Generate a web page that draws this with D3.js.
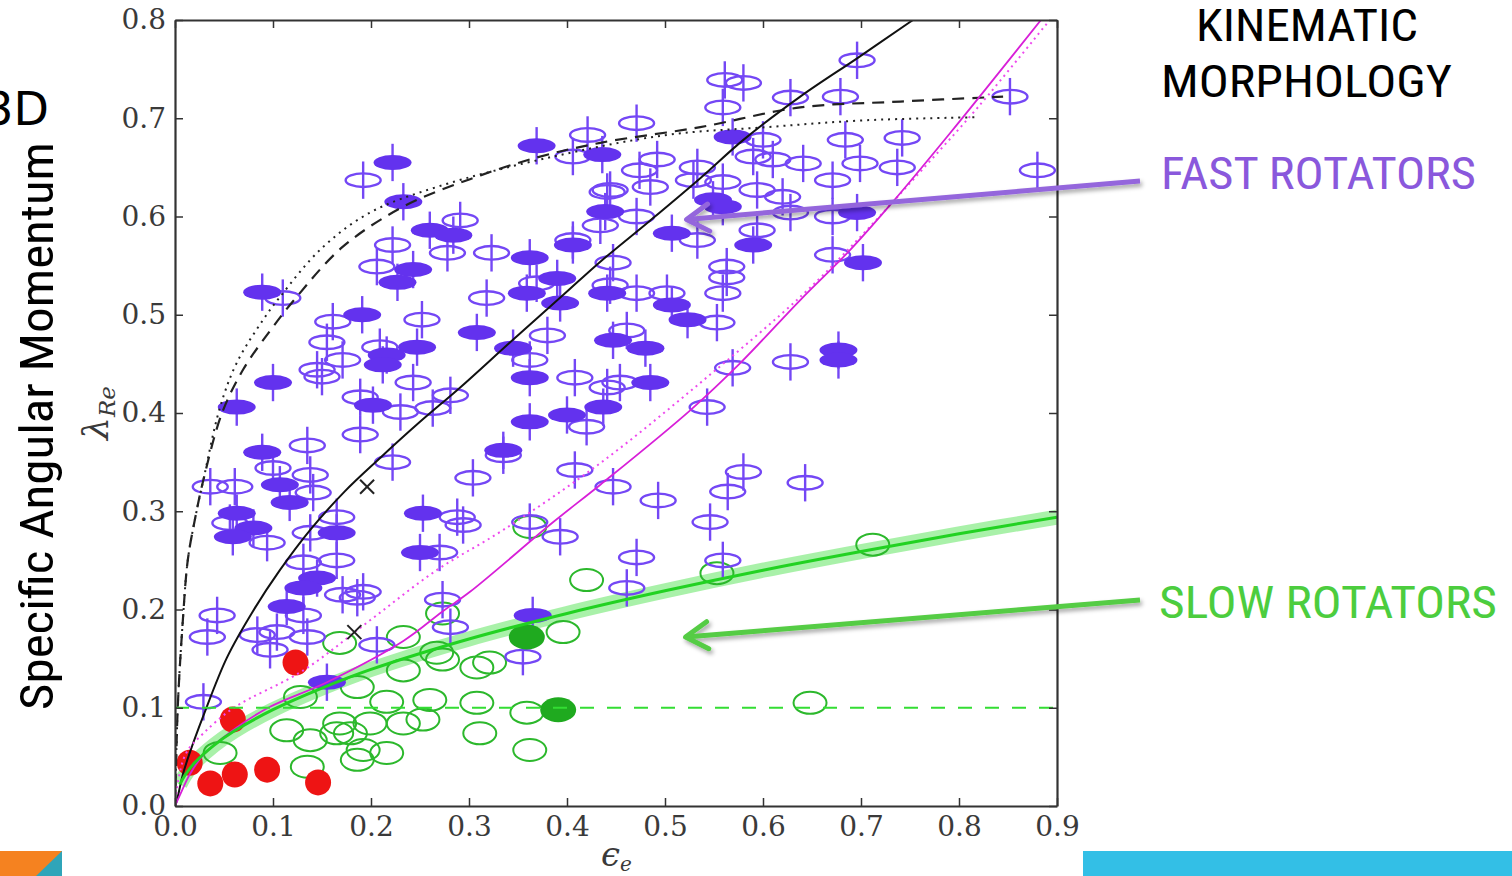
<!DOCTYPE html>
<html>
<head>
<meta charset="utf-8">
<script src="https://cdn.jsdelivr.net/npm/d3@7"></script>
<style>
  html, body { margin: 0; padding: 0; background: #fff; overflow: hidden; }
</style>
</head>
<body>
<svg id="chart" width="1512" height="876"></svg>
<script>
// ---- axis ticks ----
const xTicks = [0.0, 0.1, 0.2, 0.3, 0.4, 0.5, 0.6, 0.7, 0.8, 0.9];
const yTicks = [0.0, 0.1, 0.2, 0.3, 0.4, 0.5, 0.6, 0.7, 0.8];

// ---- galaxies: [ellipticity, lambda_Re] ----
const fastOpen = [
  [0.696,0.759],[0.561,0.739],[0.580,0.736],[0.628,0.721],[0.679,0.722],[0.852,0.722],[0.559,0.711],
  [0.471,0.695],[0.421,0.683],[0.406,0.661],[0.684,0.678],[0.742,0.680],[0.600,0.678],[0.492,0.658],
  [0.474,0.647],[0.533,0.650],[0.590,0.661],[0.610,0.658],[0.641,0.654],[0.699,0.654],[0.737,0.650],
  [0.671,0.637],[0.880,0.647],[0.444,0.627],[0.485,0.630],[0.529,0.637],[0.559,0.635],[0.594,0.627],
  [0.620,0.620],[0.628,0.604],[0.671,0.600],[0.471,0.600],[0.533,0.576],[0.594,0.586],[0.563,0.549],
  [0.563,0.538],[0.671,0.561],[0.447,0.553],[0.502,0.522],[0.559,0.522],[0.192,0.637],[0.441,0.625],
  [0.434,0.591],[0.406,0.576],[0.291,0.596],[0.222,0.571],[0.278,0.563],[0.323,0.563],[0.206,0.549],
  [0.318,0.517],[0.444,0.530],[0.369,0.532],[0.110,0.517],[0.161,0.493],[0.252,0.495],[0.155,0.472],
  [0.209,0.467],[0.171,0.454],[0.145,0.444],[0.150,0.437],[0.362,0.454],[0.380,0.479],[0.408,0.436],
  [0.420,0.386],[0.441,0.426],[0.189,0.416],[0.243,0.431],[0.281,0.418],[0.230,0.401],[0.263,0.405],
  [0.189,0.378],[0.135,0.367],[0.100,0.344],[0.335,0.357],[0.222,0.350],[0.304,0.334],[0.408,0.342],
  [0.138,0.337],[0.036,0.325],[0.061,0.325],[0.141,0.319],[0.056,0.288],[0.165,0.294],[0.288,0.294],
  [0.294,0.286],[0.362,0.289],[0.393,0.274],[0.447,0.325],[0.094,0.268],[0.138,0.278],[0.270,0.258],
  [0.131,0.248],[0.165,0.250],[0.171,0.215],[0.186,0.212],[0.192,0.218],[0.131,0.194],[0.043,0.194],
  [0.033,0.172],[0.084,0.174],[0.104,0.177],[0.135,0.172],[0.097,0.159],[0.206,0.164],[0.273,0.210],
  [0.281,0.182],[0.355,0.152],[0.029,0.106],[0.471,0.522],[0.553,0.492],[0.461,0.484],[0.454,0.431],
  [0.569,0.446],[0.628,0.452],[0.543,0.406],[0.493,0.311],[0.580,0.340],[0.564,0.320],[0.643,0.329],
  [0.546,0.289],[0.471,0.253],[0.461,0.222],[0.559,0.250]
];
const fastFilled = [
  [0.222,0.655],[0.233,0.615],[0.369,0.672],[0.436,0.663],[0.439,0.605],[0.406,0.571],[0.260,0.586],
  [0.284,0.581],[0.243,0.546],[0.227,0.533],[0.362,0.558],[0.390,0.537],[0.359,0.522],[0.089,0.523],
  [0.441,0.522],[0.569,0.681],[0.549,0.617],[0.559,0.610],[0.696,0.604],[0.507,0.583],[0.590,0.571],
  [0.702,0.553],[0.191,0.500],[0.308,0.482],[0.247,0.467],[0.216,0.459],[0.212,0.449],[0.100,0.431],
  [0.345,0.466],[0.362,0.436],[0.393,0.512],[0.437,0.406],[0.400,0.398],[0.362,0.391],[0.063,0.406],
  [0.202,0.408],[0.089,0.360],[0.335,0.362],[0.107,0.327],[0.117,0.309],[0.063,0.298],[0.080,0.283],
  [0.059,0.274],[0.253,0.298],[0.165,0.278],[0.250,0.258],[0.145,0.232],[0.131,0.222],[0.114,0.203],
  [0.365,0.194],[0.155,0.126],[0.507,0.510],[0.523,0.495],[0.447,0.474],[0.480,0.466],[0.485,0.431],
  [0.677,0.464],[0.677,0.454]
];
const slowOpen = [
  [0.362,0.284],[0.420,0.230],[0.273,0.196],[0.396,0.177],[0.168,0.166],[0.233,0.172],[0.128,0.111],
  [0.186,0.121],[0.233,0.138],[0.273,0.149],[0.308,0.141],[0.321,0.146],[0.267,0.156],[0.216,0.106],
  [0.260,0.108],[0.308,0.105],[0.253,0.088],[0.359,0.095],[0.311,0.074],[0.362,0.057],[0.114,0.077],
  [0.138,0.067],[0.165,0.074],[0.168,0.084],[0.179,0.074],[0.192,0.057],[0.199,0.084],[0.135,0.040],
  [0.186,0.047],[0.216,0.054],[0.233,0.084],[0.046,0.054],[0.648,0.105],[0.553,0.237],[0.712,0.266]
];
const slowFilled = [[0.359,0.172],[0.391,0.098]];
const redPoints = [[0.123,0.146],[0.059,0.088],[0.015,0.044],[0.036,0.023],[0.061,0.032],[0.094,0.037],[0.146,0.024]];
const crossPoints = [[0.196,0.325],[0.183,0.177]];

// ---- model curves: [ellipticity, lambda_Re] ----
const blackSolid = [
  [0,0],[0.002,0.006],[0.008,0.032],[0.015,0.054],[0.029,0.092],[0.053,0.151],[0.080,0.199],
  [0.107,0.240],[0.138,0.281],[0.173,0.320],[0.209,0.354],[0.250,0.391],[0.291,0.426],[0.342,0.472],
  [0.396,0.520],[0.434,0.554],[0.485,0.596],[0.536,0.639],[0.580,0.678],[0.638,0.722],[0.696,0.761],
  [0.750,0.798],[0.760,0.805]
];
const blackDotted = [
  [0,0],[0.001,0.04],[0.003,0.105],[0.008,0.189],[0.013,0.25],[0.020,0.29],[0.029,0.332],[0.046,0.406],
  [0.063,0.451],[0.090,0.495],[0.107,0.518],[0.150,0.568],[0.199,0.604],[0.267,0.630],[0.386,0.661],
  [0.502,0.683],[0.604,0.691],[0.706,0.698],[0.818,0.701]
];
const blackDashed = [
  [0,0],[0.001,0.04],[0.003,0.105],[0.008,0.189],[0.013,0.25],[0.020,0.29],[0.029,0.332],[0.048,0.400],
  [0.070,0.445],[0.098,0.485],[0.124,0.518],[0.171,0.569],[0.233,0.610],[0.301,0.638],[0.369,0.660],
  [0.434,0.675],[0.536,0.691],[0.638,0.711],[0.740,0.717],[0.845,0.722]
];
const magentaSolid = [
  [0,0],[0.005,0.011],[0.015,0.032],[0.029,0.052],[0.063,0.080],[0.097,0.101],[0.155,0.126],
  [0.233,0.168],[0.273,0.198],[0.301,0.218],[0.386,0.289],[0.434,0.327],[0.526,0.403],[0.577,0.451],
  [0.638,0.515],[0.689,0.566],[0.730,0.612],[0.791,0.685],[0.886,0.803]
];
const magentaDotted = [
  [0,0],[0.004,0.030],[0.012,0.055],[0.029,0.074],[0.060,0.100],[0.131,0.138],[0.199,0.189],
  [0.267,0.240],[0.335,0.281],[0.434,0.349],[0.540,0.434],[0.640,0.520],[0.700,0.580],[0.760,0.645],
  [0.820,0.712],[0.895,0.803]
];
const greenThreshold = [
  [0.005,0.022],[0.010,0.031],[0.020,0.044],[0.040,0.062],[0.060,0.076],[0.100,0.098],[0.150,0.120],
  [0.200,0.139],[0.300,0.170],[0.400,0.196],[0.500,0.219],[0.600,0.240],[0.700,0.259],[0.800,0.277],
  [0.900,0.294]
];
const slowLimit = 0.1;
const lambdaErr = 0.019;

// ---- scales ----
const svg = d3.select("#chart");
const x = d3.scaleLinear().domain([0, 0.9]).range([175, 1057]);
const y = d3.scaleLinear().domain([0, 0.8]).range([806, 20]);

const defs = svg.append("defs");
defs.append("clipPath").attr("id", "plotClip")
  .append("rect").attr("x", 175).attr("y", 20).attr("width", 882).attr("height", 786);
const shadow = defs.append("filter").attr("id", "shadow")
  .attr("x", "-10%").attr("y", "-50%").attr("width", "120%").attr("height", "200%");
shadow.append("feDropShadow").attr("dx", 2).attr("dy", 3).attr("stdDeviation", 2)
  .attr("flood-color", "#000").attr("flood-opacity", 0.35);

svg.append("rect").attr("width", 1512).attr("height", 876).attr("fill", "#fff");

const plot = svg.append("g").attr("clip-path", "url(#plotClip)");
const line = d3.line().x(d => x(d[0])).y(d => y(d[1])).curve(d3.curveCatmullRom.alpha(0.5));

// threshold band
plot.append("path").datum(greenThreshold).attr("d", line)
  .attr("fill", "none").attr("stroke", "#6fe86f").attr("stroke-opacity", 0.6).attr("stroke-width", 15);

// slow rotators (open rings)
plot.append("g").selectAll("ellipse").data(slowOpen).join("ellipse")
  .attr("cx", d => x(d[0])).attr("cy", d => y(d[1])).attr("rx", 16.5).attr("ry", 11)
  .attr("fill", "none").attr("stroke", "#2cb82c").attr("stroke-width", 2);

// fast rotators: error bars + ellipses
const fastAll = fastOpen.concat(fastFilled);
plot.append("g").selectAll("line").data(fastAll).join("line")
  .attr("x1", d => x(d[0])).attr("x2", d => x(d[0]))
  .attr("y1", d => y(d[1] + lambdaErr)).attr("y2", d => y(d[1] - lambdaErr))
  .attr("stroke", "#7447f5").attr("stroke-width", 2.4);
plot.append("g").selectAll("ellipse").data(fastOpen).join("ellipse")
  .attr("cx", d => x(d[0])).attr("cy", d => y(d[1])).attr("rx", 17.5).attr("ry", 6.8)
  .attr("fill", "none").attr("stroke", "#7447f5").attr("stroke-width", 2.4);
plot.append("g").selectAll("ellipse").data(fastFilled).join("ellipse")
  .attr("cx", d => x(d[0])).attr("cy", d => y(d[1])).attr("rx", 19).attr("ry", 7.5)
  .attr("fill", "#6332ee");

// red points
plot.append("g").selectAll("circle").data(redPoints).join("circle")
  .attr("cx", d => x(d[0])).attr("cy", d => y(d[1])).attr("r", 13)
  .attr("fill", "#ee1414");

// filled slow rotators
plot.append("g").selectAll("ellipse").data(slowFilled).join("ellipse")
  .attr("cx", d => x(d[0])).attr("cy", d => y(d[1])).attr("rx", 18).attr("ry", 12.5)
  .attr("fill", "#1faa1f");

// model curves
plot.append("path").datum(blackDotted).attr("d", line)
  .attr("fill", "none").attr("stroke", "#222").attr("stroke-width", 2).attr("stroke-dasharray", "2,5");
plot.append("path").datum(blackDashed).attr("d", line)
  .attr("fill", "none").attr("stroke", "#222").attr("stroke-width", 2.2).attr("stroke-dasharray", "12,8");
plot.append("path").datum(blackSolid).attr("d", line)
  .attr("fill", "none").attr("stroke", "#111").attr("stroke-width", 2);
plot.append("path").datum(magentaDotted).attr("d", line)
  .attr("fill", "none").attr("stroke", "#ee4aee").attr("stroke-width", 2).attr("stroke-dasharray", "2,4");
plot.append("path").datum(magentaSolid).attr("d", line)
  .attr("fill", "none").attr("stroke", "#d81fd8").attr("stroke-width", 1.8);
plot.append("path").datum(greenThreshold).attr("d", line)
  .attr("fill", "none").attr("stroke", "#22d222").attr("stroke-width", 3);
plot.append("line")
  .attr("x1", x(0)).attr("x2", x(0.9)).attr("y1", y(slowLimit)).attr("y2", y(slowLimit))
  .attr("stroke", "#33dd33").attr("stroke-width", 2).attr("stroke-dasharray", "14,13");

// crosses
const cg = plot.append("g").attr("stroke", "#222").attr("stroke-width", 2);
crossPoints.forEach(d => {
  const cx = x(d[0]), cy = y(d[1]), s = 7;
  cg.append("line").attr("x1", cx - s).attr("y1", cy - s).attr("x2", cx + s).attr("y2", cy + s);
  cg.append("line").attr("x1", cx - s).attr("y1", cy + s).attr("x2", cx + s).attr("y2", cy - s);
});

// ---- axes ----
const fmt = d3.format(".1f");
function styleAxis(g) {
  g.select(".domain").attr("stroke", "#333").attr("stroke-width", 2.2);
  g.selectAll(".tick line").attr("stroke", "#333").attr("stroke-width", 1.5);
  g.selectAll(".tick text").attr("fill", "#3a3a3a")
    .style("font-family", "'DejaVu Serif', 'Liberation Serif', serif").style("font-size", "28px");
}
svg.append("g").attr("transform", "translate(0,806)")
  .call(d3.axisBottom(x).tickValues(xTicks).tickFormat(fmt).tickSize(-8).tickSizeOuter(0).tickPadding(10))
  .call(styleAxis);
svg.append("g").attr("transform", "translate(175,0)")
  .call(d3.axisLeft(y).tickValues(yTicks).tickFormat(fmt).tickSize(-8).tickSizeOuter(0).tickPadding(9))
  .call(styleAxis);
svg.append("g").attr("transform", "translate(0,20)")
  .call(d3.axisTop(x).tickValues(xTicks).tickFormat(() => "").tickSize(-8).tickSizeOuter(0))
  .call(styleAxis);
svg.append("g").attr("transform", "translate(1057,0)")
  .call(d3.axisRight(y).tickValues(yTicks).tickFormat(() => "").tickSize(-8).tickSizeOuter(0))
  .call(styleAxis);

// axis titles
const yl = svg.append("text").attr("transform", "translate(108,413) rotate(-90)")
  .attr("text-anchor", "middle").attr("fill", "#3a3a3a")
  .style("font-family", "'DejaVu Serif', 'Liberation Serif', serif").style("font-style", "italic");
yl.append("tspan").style("font-size", "36px").text("λ");
yl.append("tspan").style("font-size", "23px").attr("dy", 7).text("Re");

const xl = svg.append("text").attr("x", 601).attr("y", 866).attr("fill", "#3a3a3a")
  .style("font-family", "'DejaVu Serif', 'Liberation Serif', serif").style("font-style", "italic");
xl.append("tspan").style("font-size", "34px").text("ϵ");
xl.append("tspan").style("font-size", "20px").attr("dy", 5).text("e");

// ---- slide annotations ----
const condensed = "'Liberation Sans Narrow', 'Roboto Condensed', 'Liberation Sans', Arial, sans-serif";
function label(txt, x0, base, len, color, size) {
  return svg.append("text").attr("x", x0).attr("y", base).attr("fill", color)
    .attr("textLength", len).attr("lengthAdjust", "spacingAndGlyphs")
    .style("font-family", condensed).style("font-size", size + "px").text(txt);
}
label("KINEMATIC", 1196, 41, 222, "#000", 44);
label("MORPHOLOGY", 1161, 97, 291, "#000", 45);
label("FAST ROTATORS", 1161, 189, 315, "#8a58dc", 45);
label("SLOW ROTATORS", 1159, 618, 338, "#4ccd3e", 45);

svg.append("text").attr("transform", "translate(53,710) rotate(-90)")
  .attr("textLength", 568).attr("lengthAdjust", "spacingAndGlyphs")
  .attr("fill", "#000").style("font-family", condensed).style("font-size", "47px")
  .text("Specific Angular Momentum");
svg.append("text").attr("x", 49).attr("y", 125).attr("text-anchor", "end")
  .attr("fill", "#000").style("font-family", "'DejaVu Sans', sans-serif").style("font-size", "46px")
  .text("3D");

// arrows pointing into the plot
function arrow(x0, y0, tip, color) {
  const tx = x(tip[0]), ty = y(tip[1]);
  const ang = Math.atan2(y0 - ty, x0 - tx);
  const arm = 26, spread = 0.55;
  const a1 = [tx + arm * Math.cos(ang + spread), ty + arm * Math.sin(ang + spread)];
  const a2 = [tx + arm * Math.cos(ang - spread), ty + arm * Math.sin(ang - spread)];
  const g = svg.append("g").attr("filter", "url(#shadow)")
    .attr("stroke", color).attr("stroke-width", 5).attr("fill", "none")
    .attr("stroke-linecap", "round").attr("stroke-linejoin", "round");
  g.append("line").attr("x1", x0).attr("y1", y0).attr("x2", tx).attr("y2", ty).attr("stroke-linecap", "butt");
  g.append("path").attr("d", `M${a1[0]},${a1[1]}L${tx},${ty}L${a2[0]},${a2[1]}`);
}
arrow(1140, 181, [0.522, 0.597], "#9466dc");
arrow(1140, 600, [0.521, 0.172], "#55cc44");

// slide decorations
svg.append("rect").attr("x", 0).attr("y", 851).attr("width", 62).attr("height", 25).attr("fill", "#f58220");
svg.append("path").attr("d", "M36,876L62,851L62,876Z").attr("fill", "#2fa5b9");
svg.append("rect").attr("x", 1083).attr("y", 851).attr("width", 429).attr("height", 25).attr("fill", "#33bfe6");
</script>
</body>
</html>
